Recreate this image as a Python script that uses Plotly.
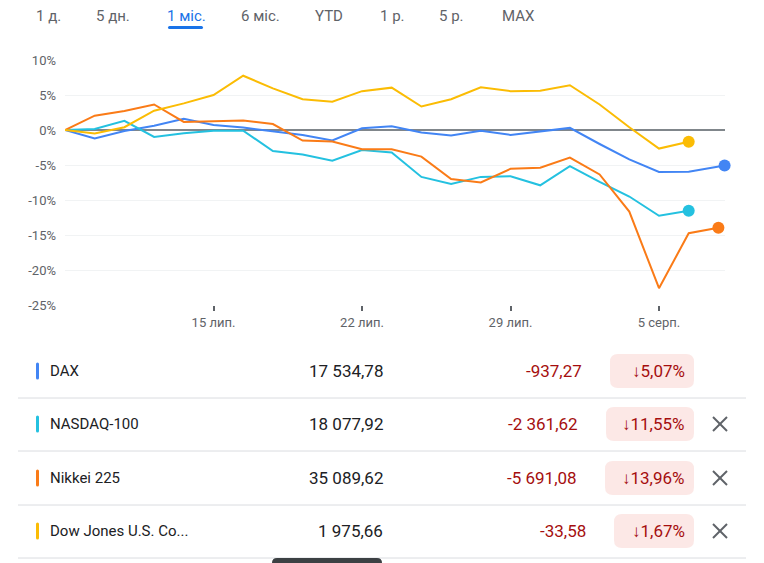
import plotly.graph_objects as go

# --- data (Google Finance compare, 1 month) ---
dates = ["2024-07-08", "2024-07-09", "2024-07-10", "2024-07-11", "2024-07-12",
         "2024-07-15", "2024-07-16", "2024-07-17", "2024-07-18", "2024-07-19",
         "2024-07-22", "2024-07-23", "2024-07-24", "2024-07-25", "2024-07-26",
         "2024-07-29", "2024-07-30", "2024-07-31", "2024-08-01", "2024-08-02",
         "2024-08-05", "2024-08-06", "2024-08-07"]
dax_last_time = "2024-08-07 05:00"

dax = [0, -1.2, -0.15, 0.6, 1.6, 0.7, 0.35, -0.15, -0.7, -1.5, 0.25, 0.55,
       -0.35, -0.8, -0.1, -0.7, -0.2, 0.3, -2.0, -4.2, -6.0, -5.95, -5.07]
nasdaq = [0, 0.15, 1.3, -1.0, -0.45, -0.1, -0.1, -3.0, -3.5, -4.4, -2.85, -3.2,
          -6.7, -7.7, -6.7, -6.6, -7.9, -5.15, -7.4, -9.5, -12.25, -11.55]
nikkei = [0, 2.05, 2.7, 3.65, 1.15, 1.25, 1.35, 0.85, -1.5, -1.65, -2.75, -2.75,
          -3.8, -7.0, -7.5, -5.55, -5.4, -3.95, -6.35, -11.65, -22.6, -14.75, -13.96]
dowjones = [0, -0.5, 0.4, 2.75, 3.8, 5.0, 7.75, 5.95, 4.4, 4.05, 5.55, 6.05,
            3.35, 4.4, 6.1, 5.55, 5.6, 6.4, 3.65, 0.4, -2.65, -1.67]

names = ["DAX", "NASDAQ-100", "Nikkei 225", "Dow Jones U.S. Co..."]
prices = ["17 534,78", "18 077,92", "35 089,62", "1 975,66"]
changes = ["-937,27", "-2 361,62", "-5 691,08", "-33,58"]
pct_changes = ["↓5,07%", "↓11,55%", "↓13,96%", "↓1,67%"]
removable = [False, True, True, True]

x_tickvals = ["2024-07-15", "2024-07-22", "2024-07-29", "2024-08-05"]
x_ticktext = ["15 лип.", "22 лип.", "29 лип.", "5 серп."]
y_tickvals = [10, 5, 0, -5, -10, -15, -20, -25]
y_ticktext = ["10%", "5%", "0%", "-5%", "-10%", "-15%", "-20%", "-25%"]
tabs = ["1 д.", "5 дн.", "1 міс.", "6 міс.", "YTD", "1 р.", "5 р.", "MAX"]

colors = ["#4285f4", "#24c1e0", "#fa7b17", "#fbbc04"]

# --- layout helpers (pixel -> paper) ---
W, H = 764, 563
PL, PR, PT, PB = 65, 725, 60, 305


def px(x):
    return (x - PL) / (PR - PL)


def py(y):
    return (PB - y) / (PB - PT)


def rounded_rect(x0, y0, x1, y1, r):
    p = lambda x, y: f"{px(x)},{py(y)}"
    return (f"M {p(x0 + r, y0)} L {p(x1 - r, y0)} Q {p(x1, y0)} {p(x1, y0 + r)} "
            f"L {p(x1, y1 - r)} Q {p(x1, y1)} {p(x1 - r, y1)} "
            f"L {p(x0 + r, y1)} Q {p(x0, y1)} {p(x0, y1 - r)} "
            f"L {p(x0, y0 + r)} Q {p(x0, y0)} {p(x0 + r, y0)} Z")


fig = go.Figure()

series = [
    (names[0], dates[:-1] + [dax_last_time], dax),
    (names[1], dates[:len(nasdaq)], nasdaq),
    (names[2], dates[:len(nikkei)], nikkei),
    (names[3], dates[:len(dowjones)], dowjones),
]
for (name, xs, ys), c in zip(series, colors):
    fig.add_trace(go.Scatter(
        x=xs, y=ys, mode="lines", name=name,
        line=dict(color=c, width=2),
        cliponaxis=False, showlegend=False
    ))
    fig.add_trace(go.Scatter(
        x=[xs[-1]], y=[ys[-1]], mode="markers",
        marker=dict(color=c, size=12),
        cliponaxis=False, showlegend=False, hoverinfo="skip"
    ))

fig.update_layout(
    width=W, height=H,
    margin=dict(l=PL, r=W - PR, t=PT, b=H - PB),
    paper_bgcolor="white",
    plot_bgcolor="white",
    font=dict(family="Roboto", color="#5f6368"),
    showlegend=False,
)
fig.update_xaxes(
    type="date",
    range=["2024-07-08", "2024-08-07 05:20"],
    rangebreaks=[dict(bounds=["sat", "mon"])],
    tickvals=x_tickvals, ticktext=x_ticktext,
    ticks="outside", ticklen=5, tickwidth=2, tickcolor="#5f6368",
    tickfont=dict(size=13, color="#5f6368"),
    showgrid=False, zeroline=False, showline=False,
)
fig.update_yaxes(
    range=[-25, 10],
    tickvals=y_tickvals, ticktext=y_ticktext,
    tickfont=dict(size=13, color="#5f6368"),
    ticklabelstandoff=8,
    gridcolor="#f1f3f4", gridwidth=1,
    zeroline=True, zerolinecolor="#80868b", zerolinewidth=2,
    showline=False, automargin=False,
)

annotations = []
shapes = []

# tab bar
tab_centers = [48, 113, 186, 260, 329, 392, 452, 518]
for t, cx in zip(tabs, tab_centers):
    active = t == "1 міс."
    annotations.append(dict(
        x=px(cx), y=py(16), xref="paper", yref="paper", text=t, showarrow=False,
        xanchor="center", yanchor="middle",
        font=dict(size=15, color="#1a73e8" if active else "#5f6368")
    ))
shapes.append(dict(type="path", xref="paper", yref="paper",
                   path=rounded_rect(168, 26, 203, 29, 1.5),
                   fillcolor="#1a73e8", line=dict(width=0)))

# table rows
row_y = [371, 424, 478, 531]
badge_left = [610, 606, 605, 614]
for i, ry in enumerate(row_y):
    shapes.append(dict(type="path", xref="paper", yref="paper",
                       path=rounded_rect(36, ry - 8.5, 39, ry + 8.5, 1.5),
                       fillcolor=colors[i], line=dict(width=0)))
    annotations.append(dict(x=px(48), y=py(ry), xref="paper", yref="paper",
                            text=names[i], showarrow=False, xanchor="left",
                            yanchor="middle", font=dict(size=15, color="#202124")))
    annotations.append(dict(x=px(385), y=py(ry), xref="paper", yref="paper",
                            text=prices[i], showarrow=False, xanchor="right",
                            yanchor="middle", font=dict(size=17, color="#202124")))
    annotations.append(dict(x=px(badge_left[i] - 26), y=py(ry), xref="paper", yref="paper",
                            text=changes[i], showarrow=False, xanchor="right",
                            yanchor="middle", font=dict(size=17, color="#a50e0e")))
    shapes.append(dict(type="path", xref="paper", yref="paper",
                       path=rounded_rect(badge_left[i], ry - 17, 694, ry + 17, 8),
                       fillcolor="#fce8e6", line=dict(width=0), layer="below"))
    annotations.append(dict(x=px(687), y=py(ry), xref="paper", yref="paper",
                            text=pct_changes[i], showarrow=False, xanchor="right",
                            yanchor="middle", font=dict(size=17, color="#a50e0e")))
    if removable[i]:
        for (ax, ay, bx, by) in [(713, ry - 7, 727, ry + 7), (713, ry + 7, 727, ry - 7)]:
            shapes.append(dict(type="line", xref="paper", yref="paper",
                               x0=px(ax), y0=py(ay), x1=px(bx), y1=py(by),
                               line=dict(color="#5f6368", width=2)))
    # separator under each row
    shapes.append(dict(type="line", xref="paper", yref="paper",
                       x0=px(18), x1=px(746), y0=py(ry + 27), y1=py(ry + 27),
                       line=dict(color="#dadce0", width=1)))

# dark handle peeking at the bottom edge
shapes.append(dict(type="path", xref="paper", yref="paper",
                   path=rounded_rect(272, 558, 382, 572, 5),
                   fillcolor="#3c4043", line=dict(width=0)))

fig.update_layout(annotations=annotations, shapes=shapes)

fig.write_html("out.html", config={"displayModeBar": False},
               post_script="document.body.style.margin='0';")
